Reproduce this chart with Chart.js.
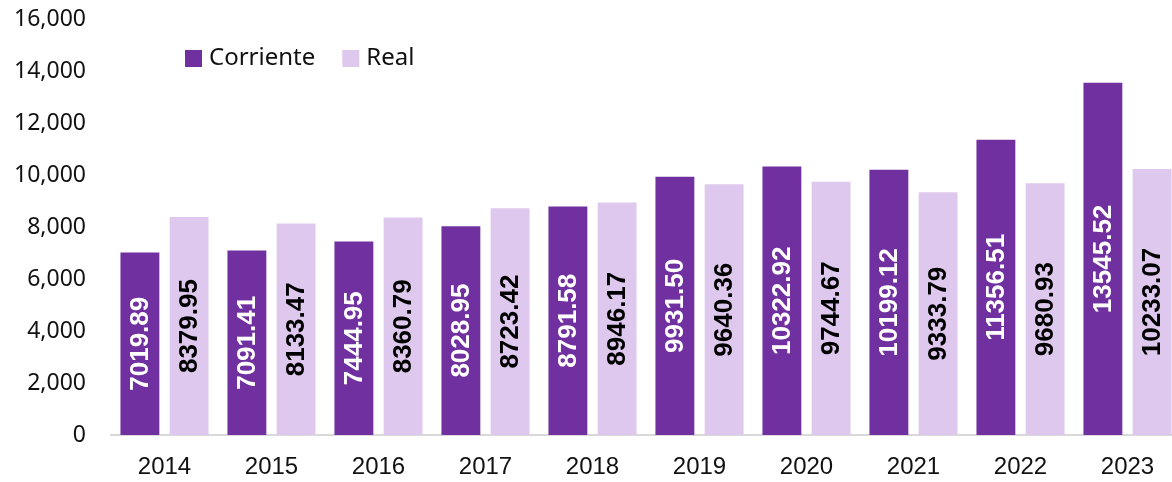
<!DOCTYPE html>
<html>
<head>
<meta charset="utf-8">
<script src="https://cdn.jsdelivr.net/npm/chart.js@4"></script>
<style>
  html, body { margin: 0; padding: 0; background: #fff; overflow: hidden; }
  #wrap { width: 1192px; height: 482px; position: relative; }
</style>
</head>
<body>
<div id="wrap"><canvas id="chart"></canvas></div>
<script>
const years     = ["2014", "2015", "2016", "2017", "2018", "2019", "2020", "2021", "2022", "2023"];
const corriente = [7019.89, 7091.41, 7444.95, 8028.95, 8791.58, 9931.50, 10322.92, 10199.12, 11356.51, 13545.52];
const real      = [8379.95, 8133.47, 8360.79, 8723.42, 8946.17, 9640.36, 9744.67, 9333.79, 9680.93, 10233.07];
const yMin = 0, yMax = 16000, yStep = 2000;

const DARK = "#7030A0";
const LIGHT = "#DFC8EE";

// values drawn vertically in the middle of each bar
const barLabels = {
  id: "barLabels",
  afterDatasetsDraw(chart) {
    const ctx = chart.ctx;
    ctx.save();
    ctx.font = "bold 26px 'Liberation Sans', Arial, sans-serif";
    ctx.textAlign = "center";
    ctx.textBaseline = "middle";
    chart.data.datasets.forEach((ds, i) => {
      chart.getDatasetMeta(i).data.forEach((bar, j) => {
        const cy = (bar.y + bar.base) / 2;
        ctx.save();
        ctx.translate(bar.x, cy);
        ctx.rotate(-Math.PI / 2);
        ctx.fillStyle = ds.labelColor;
        ctx.fillText(ds.data[j].toFixed(2), 0, 1);
        ctx.restore();
      });
    });
    ctx.restore();
  }
};

// legend sitting inside the plot, top left
const topLegend = {
  id: "topLegend",
  afterDraw(chart) {
    const ctx = chart.ctx;
    ctx.save();
    ctx.font = "24px 'Noto Sans', sans-serif";
    ctx.textBaseline = "middle";
    let x = 185;
    const y = 58.5;
    chart.data.datasets.forEach(ds => {
      ctx.fillStyle = ds.backgroundColor;
      ctx.fillRect(x, y - 8.5, 17, 17);
      ctx.fillStyle = "#111";
      ctx.fillText(ds.label, x + 24, y);
      x += 24 + ctx.measureText(ds.label).width + 27;
    });
    ctx.restore();
  }
};

new Chart(document.getElementById("chart"), {
  type: "bar",
  data: {
    labels: years,
    datasets: [
      { label: "Corriente", data: corriente, backgroundColor: DARK, labelColor: "#fff" },
      { label: "Real", data: real, backgroundColor: LIGHT, labelColor: "#000" }
    ]
  },
  options: {
    responsive: true,
    maintainAspectRatio: false,
    animation: false,
    categoryPercentage: 0.92,
    barPercentage: 0.79,
    layout: { padding: { top: 19, right: 11, bottom: 0, left: 0 } },
    plugins: {
      legend: { display: false },
      tooltip: { enabled: false }
    },
    scales: {
      x: {
        grid: { display: false, drawTicks: false },
        border: { display: true, color: "#D9D9D9", width: 2 },
        ticks: {
          color: "#111",
          font: { family: "'Liberation Sans', Arial, sans-serif", size: 24 },
          padding: 18,
          maxRotation: 0
        },
        afterFit(scale) { scale.height = 47; }
      },
      y: {
        min: yMin,
        max: yMax,
        grid: { display: false, drawTicks: false },
        border: { display: false },
        ticks: {
          stepSize: yStep,
          color: "#111",
          padding: 25,
          font: { family: "'Noto Sans', sans-serif", size: 23 },
          callback: v => v.toLocaleString("en-US")
        },
        afterFit(scale) {
          scale.width = 111;
          // tick padding is only meant to push labels left, not down from the top
          scale.paddingTop = 0;
          scale.paddingBottom = 0;
        }
      }
    }
  },
  plugins: [barLabels, topLegend]
});
</script>
</body>
</html>
